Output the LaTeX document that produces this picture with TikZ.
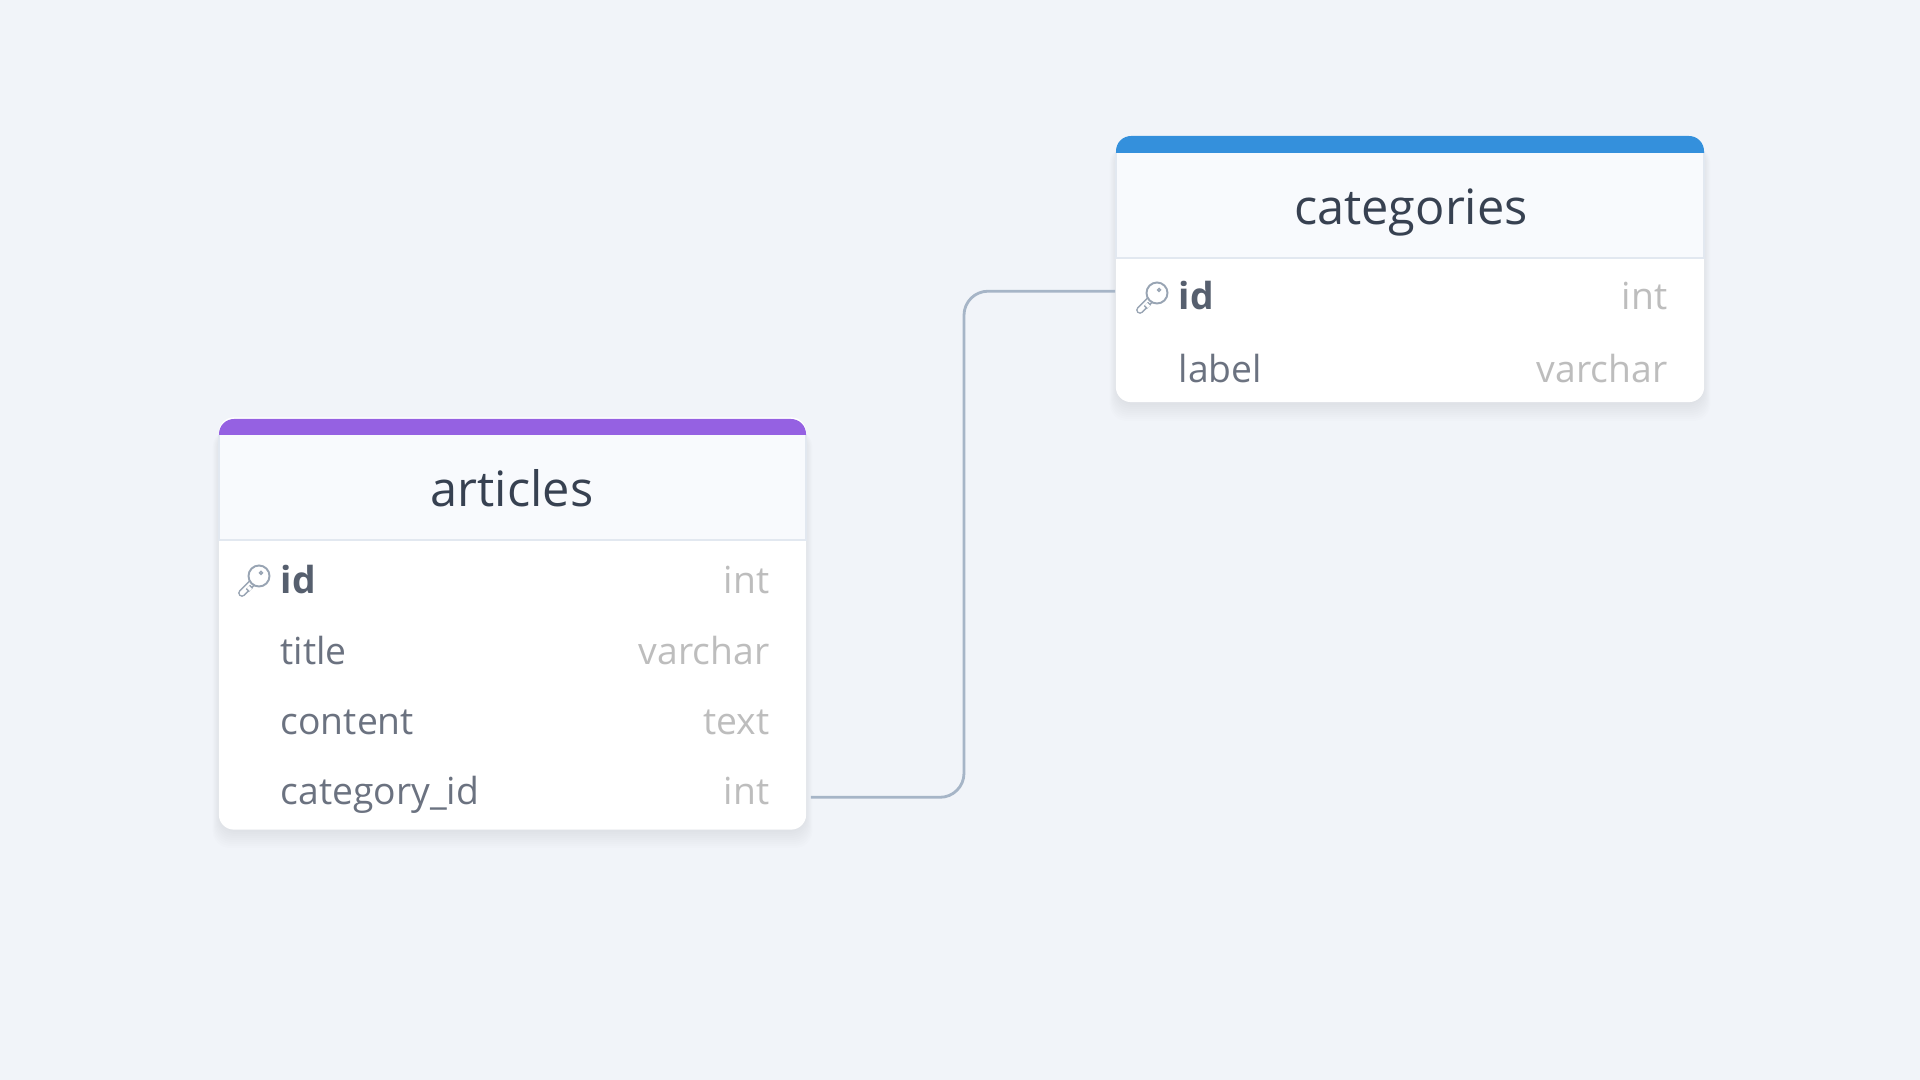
\documentclass[tikz,border=0pt]{standalone}
\usepackage{fontspec}
\setmainfont{Open Sans}
\usepackage{tikz}
\definecolor{colorBG}{HTML}{F1F4F9}
\definecolor{colorHead}{HTML}{F8FAFD}
\definecolor{colorEdge}{HTML}{E2E8F0}
\definecolor{colorArticles}{HTML}{9561E2}
\definecolor{colorCategories}{HTML}{3490DC}
\definecolor{colorTitle}{HTML}{374151}
\definecolor{colorField}{HTML}{6B7280}
\definecolor{colorKeyField}{HTML}{565F6E}
\definecolor{colorType}{HTML}{BDBDBD}
\definecolor{colorRel}{HTML}{A6B5C7}
\definecolor{colorKey}{HTML}{98A4B3}
\tikzset{
   tablecard/.style={rectangle,rounded corners=0.15cm,fill=white,inner sep=0pt,minimum width=5.87cm},
   tabletitle/.style={anchor=base,inner sep=0pt,text=colorTitle,font=\fontsize{13.85}{16}\selectfont},
   field/.style={anchor=base west,inner sep=0pt,text=colorField,font=\fontsize{10.6}{12}\selectfont},
   keyfield/.style={field,text=colorKeyField,font=\fontsize{10.6}{12}\selectfont\bfseries},
   fieldtype/.style={anchor=base east,inner sep=0pt,text=colorType,font=\fontsize{10.6}{12}\selectfont},
   rel/.style={draw=colorRel,line width=0.8pt,rounded corners=0.24cm},
   headline/.style={draw=colorEdge,line width=0.6pt},
   keyicon/.pic={
      \draw[colorKey,line width=0.45pt,double=white,double distance=1.3pt,line cap=round] (-12,12) -- (2,-2);
      \draw[colorKey,line width=0.45pt,double=white,double distance=0.9pt] (-6,6) -- (-3,9);
      \draw[colorKey,line width=0.55pt,fill=white] (5,-5) circle (0.105cm);
      \draw[colorKey,line width=0.4pt] (7,-8) circle (0.015cm);
   },
}
\newcommand{\softshadow}[4]{
   \foreach \g in {0,2,4,6,8,10,12,14,16}
      \fill[black,opacity=0.007,rounded corners=0.17cm] (#1-0.4*\g,#2) rectangle (#3+0.4*\g,#4+\g+3);
}
\begin{document}
\begin{tikzpicture}[x=0.01cm,y=-0.01cm]

        \useasboundingbox (0,0) rectangle (1920,1080);
        \fill[colorBG] (0,0) rectangle (1920,1080);

        \softshadow{219}{430}{806}{829}
        \softshadow{1116}{146}{1704}{402}

        \node[tablecard,minimum height=4.12cm] (articles) at (512.5,623.5) {};
        \node[tablecard,minimum width=5.88cm,minimum height=2.66cm] (categories) at (1410,269) {};

        % articles header
        \fill[colorHead] (219,430) rectangle (806,540);
        \draw[headline] (219,435) -- (219,540) -- (806,540) -- (806,435);
        \fill[colorArticles] (219,435) {[rounded corners=0.15cm] -- (219,419) -- (806,419)} -- (806,435) -- cycle;

        % categories header
        \fill[colorHead] (1116,146) rectangle (1704,258);
        \draw[headline] (1116,152) -- (1116,258) -- (1704,258) -- (1704,152);
        \fill[colorCategories] (1116,153) {[rounded corners=0.15cm] -- (1116,136) -- (1704,136)} -- (1704,153) -- cycle;

        \node[tabletitle] (articlesT) at (512,507) {articles};
        \node[tabletitle] (categoriesT) at (1411,225) {categories};

        \pic at (254,581) {keyicon};
        \node[keyfield] (a1) at (280,594) {id};
        \node[field] (a2) at (280,665) {title};
        \node[field] (a3) at (280,735) {content};
        \node[field] (a4) at (280,805) {category\_id};

        \node[fieldtype] (a1t) at (770,594) {int};
        \node[fieldtype] (a2t) at (770,665) {varchar};
        \node[fieldtype] (a3t) at (770,735) {text};
        \node[fieldtype] (a4t) at (770,805) {int};

        \pic at (1152,298) {keyicon};
        \node[keyfield] (c1) at (1178,310) {id};
        \node[field] (c2) at (1178,383) {label};

        \node[fieldtype] (c1t) at (1668,310) {int};
        \node[fieldtype] (c2t) at (1668,383) {varchar};

        \coordinate (relbend) at (964,540);
        \draw[rel] ([shift={(4,-33)}]articles.south east) -| (relbend) |- ([shift={(0,156)}]categories.north west);

      \end{tikzpicture}
\end{document}
